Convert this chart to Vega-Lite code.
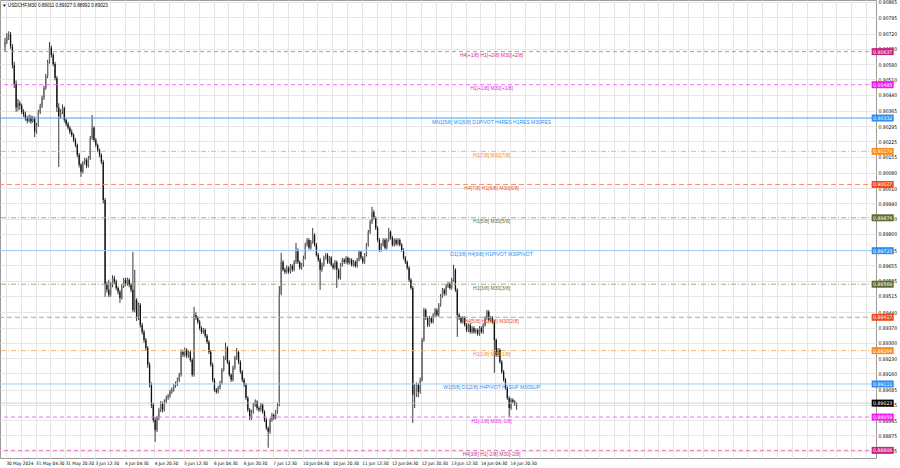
{
"$schema": "https://vega.github.io/schema/vega-lite/v6.json",
"width": 876, "height": 458, "padding": {"left": 0, "top": 0, "right": 24, "bottom": 10}, "autosize": {"type": "none"},
"background": "white",
"config": {"view": {"stroke": "#9a9a9a", "strokeWidth": 1}, "font": "Liberation Sans",
  "axis": {"labelFontSize": 5, "labelColor": "#000000", "labelFont": "Liberation Sans Narrow, DejaVu Sans Condensed, Liberation Sans", "gridColor": "#e6e6e6", "gridOpacity": 1, "tickSize": 0, "domain": false, "title": null, "labelOverlap": false}},
"title": {"text": "▼ USDCHF,M30  0.89011 0.89027 0.88992 0.89023", "anchor": "start", "frame": "group", "orient": "top", "offset": -8, "dx": 2, "fontSize": 4.6, "fontWeight": "normal", "color": "#000", "font": "Liberation Sans, DejaVu Sans"},
"datasets": {
"bars": [
{"t":0,"o":0.90660,"h":0.90700,"l":0.90640,"c":0.90685},
{"t":2,"o":0.90685,"h":0.90722,"l":0.90672,"c":0.90705},
{"t":4,"o":0.90705,"h":0.90730,"l":0.90690,"c":0.90715},
{"t":6,"o":0.90715,"h":0.90727,"l":0.90650,"c":0.90660},
{"t":8,"o":0.90660,"h":0.90672,"l":0.90560,"c":0.90575},
{"t":10,"o":0.90575,"h":0.90590,"l":0.90470,"c":0.90490},
{"t":12,"o":0.90490,"h":0.90505,"l":0.90360,"c":0.90380},
{"t":14,"o":0.90380,"h":0.90420,"l":0.90365,"c":0.90400},
{"t":16,"o":0.90400,"h":0.90412,"l":0.90370,"c":0.90390},
{"t":18,"o":0.90390,"h":0.90398,"l":0.90350,"c":0.90360},
{"t":20,"o":0.90360,"h":0.90372,"l":0.90338,"c":0.90350},
{"t":22,"o":0.90350,"h":0.90362,"l":0.90320,"c":0.90330},
{"t":24,"o":0.90330,"h":0.90342,"l":0.90308,"c":0.90320},
{"t":26,"o":0.90320,"h":0.90348,"l":0.90312,"c":0.90335},
{"t":28,"o":0.90335,"h":0.90345,"l":0.90305,"c":0.90316},
{"t":30,"o":0.90316,"h":0.90342,"l":0.90310,"c":0.90330},
{"t":32,"o":0.90330,"h":0.90338,"l":0.90245,"c":0.90270},
{"t":34,"o":0.90270,"h":0.90310,"l":0.90260,"c":0.90300},
{"t":36,"o":0.90300,"h":0.90370,"l":0.90292,"c":0.90360},
{"t":38,"o":0.90360,"h":0.90398,"l":0.90350,"c":0.90388},
{"t":40,"o":0.90388,"h":0.90435,"l":0.90378,"c":0.90425},
{"t":42,"o":0.90425,"h":0.90480,"l":0.90415,"c":0.90470},
{"t":44,"o":0.90470,"h":0.90535,"l":0.90462,"c":0.90525},
{"t":46,"o":0.90525,"h":0.90600,"l":0.90515,"c":0.90590},
{"t":48,"o":0.90590,"h":0.90681,"l":0.90582,"c":0.90655},
{"t":50,"o":0.90655,"h":0.90665,"l":0.90610,"c":0.90622},
{"t":52,"o":0.90622,"h":0.90632,"l":0.90570,"c":0.90580},
{"t":54,"o":0.90580,"h":0.90590,"l":0.90505,"c":0.90516},
{"t":56,"o":0.90516,"h":0.90525,"l":0.90360,"c":0.90380},
{"t":58,"o":0.90380,"h":0.90400,"l":0.90107,"c":0.90340},
{"t":60,"o":0.90340,"h":0.90372,"l":0.90330,"c":0.90360},
{"t":62,"o":0.90360,"h":0.90395,"l":0.90350,"c":0.90378},
{"t":64,"o":0.90378,"h":0.90385,"l":0.90312,"c":0.90323},
{"t":66,"o":0.90323,"h":0.90332,"l":0.90295,"c":0.90305},
{"t":68,"o":0.90305,"h":0.90315,"l":0.90278,"c":0.90287},
{"t":70,"o":0.90287,"h":0.90295,"l":0.90258,"c":0.90268},
{"t":72,"o":0.90268,"h":0.90280,"l":0.90245,"c":0.90254},
{"t":74,"o":0.90254,"h":0.90262,"l":0.90222,"c":0.90231},
{"t":76,"o":0.90231,"h":0.90240,"l":0.90198,"c":0.90208},
{"t":78,"o":0.90208,"h":0.90215,"l":0.90152,"c":0.90163},
{"t":80,"o":0.90163,"h":0.90172,"l":0.90105,"c":0.90117},
{"t":82,"o":0.90117,"h":0.90125,"l":0.90062,"c":0.90085},
{"t":84,"o":0.90085,"h":0.90135,"l":0.90078,"c":0.90126},
{"t":86,"o":0.90126,"h":0.90150,"l":0.90118,"c":0.90140},
{"t":88,"o":0.90140,"h":0.90148,"l":0.90102,"c":0.90112},
{"t":90,"o":0.90112,"h":0.90158,"l":0.90105,"c":0.90149},
{"t":92,"o":0.90149,"h":0.90250,"l":0.90140,"c":0.90240},
{"t":94,"o":0.90240,"h":0.90346,"l":0.90232,"c":0.90287},
{"t":96,"o":0.90287,"h":0.90295,"l":0.90222,"c":0.90231},
{"t":98,"o":0.90231,"h":0.90240,"l":0.90198,"c":0.90208},
{"t":100,"o":0.90208,"h":0.90215,"l":0.90175,"c":0.90185},
{"t":102,"o":0.90185,"h":0.90192,"l":0.90152,"c":0.90163},
{"t":104,"o":0.90163,"h":0.90170,"l":0.90120,"c":0.90130},
{"t":106,"o":0.90130,"h":0.90140,"l":0.89940,"c":0.89956},
{"t":108,"o":0.89956,"h":0.89965,"l":0.89511,"c":0.89566},
{"t":110,"o":0.89566,"h":0.89580,"l":0.89530,"c":0.89543},
{"t":112,"o":0.89543,"h":0.89590,"l":0.89510,"c":0.89520},
{"t":114,"o":0.89520,"h":0.89578,"l":0.89512,"c":0.89566},
{"t":116,"o":0.89566,"h":0.89610,"l":0.89555,"c":0.89598},
{"t":118,"o":0.89598,"h":0.89608,"l":0.89570,"c":0.89580},
{"t":120,"o":0.89580,"h":0.89590,"l":0.89542,"c":0.89552},
{"t":122,"o":0.89552,"h":0.89560,"l":0.89522,"c":0.89534},
{"t":124,"o":0.89534,"h":0.89542,"l":0.89483,"c":0.89506},
{"t":126,"o":0.89506,"h":0.89570,"l":0.89498,"c":0.89561},
{"t":128,"o":0.89561,"h":0.89598,"l":0.89552,"c":0.89589},
{"t":130,"o":0.89589,"h":0.89598,"l":0.89560,"c":0.89570},
{"t":132,"o":0.89570,"h":0.89600,"l":0.89562,"c":0.89589},
{"t":134,"o":0.89589,"h":0.89596,"l":0.89555,"c":0.89566},
{"t":136,"o":0.89566,"h":0.89575,"l":0.89532,"c":0.89543},
{"t":138,"o":0.89543,"h":0.89717,"l":0.89440,"c":0.89451},
{"t":140,"o":0.89451,"h":0.89635,"l":0.89440,"c":0.89497},
{"t":142,"o":0.89497,"h":0.89505,"l":0.89400,"c":0.89414},
{"t":144,"o":0.89414,"h":0.89485,"l":0.89405,"c":0.89474},
{"t":146,"o":0.89474,"h":0.89482,"l":0.89370,"c":0.89382},
{"t":148,"o":0.89382,"h":0.89392,"l":0.89338,"c":0.89350},
{"t":150,"o":0.89350,"h":0.89360,"l":0.89300,"c":0.89313},
{"t":152,"o":0.89313,"h":0.89322,"l":0.89262,"c":0.89276},
{"t":154,"o":0.89276,"h":0.89285,"l":0.89185,"c":0.89199},
{"t":156,"o":0.89199,"h":0.89210,"l":0.89095,"c":0.89107},
{"t":158,"o":0.89107,"h":0.89118,"l":0.89000,"c":0.89015},
{"t":160,"o":0.89015,"h":0.89025,"l":0.88935,"c":0.88946},
{"t":162,"o":0.88946,"h":0.88958,"l":0.88845,"c":0.88900},
{"t":164,"o":0.88900,"h":0.88965,"l":0.88890,"c":0.88955},
{"t":166,"o":0.88955,"h":0.89002,"l":0.88945,"c":0.88992},
{"t":168,"o":0.88992,"h":0.89032,"l":0.88982,"c":0.89020},
{"t":170,"o":0.89020,"h":0.89030,"l":0.88980,"c":0.88992},
{"t":172,"o":0.88992,"h":0.89040,"l":0.88985,"c":0.89029},
{"t":174,"o":0.89029,"h":0.89058,"l":0.89020,"c":0.89047},
{"t":176,"o":0.89047,"h":0.89065,"l":0.89038,"c":0.89056},
{"t":178,"o":0.89056,"h":0.89085,"l":0.89048,"c":0.89075},
{"t":180,"o":0.89075,"h":0.89095,"l":0.89066,"c":0.89084},
{"t":182,"o":0.89084,"h":0.89112,"l":0.89076,"c":0.89102},
{"t":184,"o":0.89102,"h":0.89122,"l":0.89094,"c":0.89111},
{"t":186,"o":0.89111,"h":0.89140,"l":0.89102,"c":0.89130},
{"t":188,"o":0.89130,"h":0.89162,"l":0.89120,"c":0.89153},
{"t":190,"o":0.89153,"h":0.89270,"l":0.89145,"c":0.89258},
{"t":192,"o":0.89258,"h":0.89268,"l":0.89235,"c":0.89245},
{"t":194,"o":0.89245,"h":0.89278,"l":0.89236,"c":0.89267},
{"t":196,"o":0.89267,"h":0.89275,"l":0.89230,"c":0.89240},
{"t":198,"o":0.89240,"h":0.89268,"l":0.89232,"c":0.89258},
{"t":200,"o":0.89258,"h":0.89265,"l":0.89212,"c":0.89221},
{"t":202,"o":0.89221,"h":0.89230,"l":0.89144,"c":0.89153},
{"t":204,"o":0.89153,"h":0.89465,"l":0.89145,"c":0.89428},
{"t":206,"o":0.89428,"h":0.89440,"l":0.89405,"c":0.89414},
{"t":208,"o":0.89414,"h":0.89422,"l":0.89386,"c":0.89396},
{"t":210,"o":0.89396,"h":0.89405,"l":0.89358,"c":0.89368},
{"t":212,"o":0.89368,"h":0.89376,"l":0.89340,"c":0.89350},
{"t":214,"o":0.89350,"h":0.89368,"l":0.89342,"c":0.89359},
{"t":216,"o":0.89359,"h":0.89366,"l":0.89322,"c":0.89332},
{"t":218,"o":0.89332,"h":0.89340,"l":0.89295,"c":0.89304},
{"t":220,"o":0.89304,"h":0.89312,"l":0.89248,"c":0.89258},
{"t":222,"o":0.89258,"h":0.89266,"l":0.89190,"c":0.89199},
{"t":224,"o":0.89199,"h":0.89208,"l":0.89120,"c":0.89130},
{"t":226,"o":0.89130,"h":0.89138,"l":0.89075,"c":0.89084},
{"t":228,"o":0.89084,"h":0.89092,"l":0.89066,"c":0.89075},
{"t":230,"o":0.89075,"h":0.89102,"l":0.89068,"c":0.89093},
{"t":232,"o":0.89093,"h":0.89125,"l":0.89085,"c":0.89116},
{"t":234,"o":0.89116,"h":0.89185,"l":0.89108,"c":0.89176},
{"t":236,"o":0.89176,"h":0.89240,"l":0.89168,"c":0.89231},
{"t":238,"o":0.89231,"h":0.89300,"l":0.89222,"c":0.89276},
{"t":240,"o":0.89276,"h":0.89284,"l":0.89202,"c":0.89212},
{"t":242,"o":0.89212,"h":0.89220,"l":0.89145,"c":0.89153},
{"t":244,"o":0.89153,"h":0.89160,"l":0.89120,"c":0.89130},
{"t":246,"o":0.89130,"h":0.89195,"l":0.89122,"c":0.89185},
{"t":248,"o":0.89185,"h":0.89240,"l":0.89176,"c":0.89231},
{"t":250,"o":0.89231,"h":0.89276,"l":0.89222,"c":0.89258},
{"t":252,"o":0.89258,"h":0.89266,"l":0.89202,"c":0.89212},
{"t":254,"o":0.89212,"h":0.89220,"l":0.89158,"c":0.89167},
{"t":256,"o":0.89167,"h":0.89175,"l":0.89120,"c":0.89130},
{"t":258,"o":0.89130,"h":0.89138,"l":0.89098,"c":0.89107},
{"t":260,"o":0.89107,"h":0.89115,"l":0.89038,"c":0.89047},
{"t":262,"o":0.89047,"h":0.89055,"l":0.88982,"c":0.88992},
{"t":264,"o":0.88992,"h":0.89000,"l":0.88945,"c":0.88955},
{"t":266,"o":0.88955,"h":0.88992,"l":0.88946,"c":0.88983},
{"t":268,"o":0.88983,"h":0.89025,"l":0.88975,"c":0.89015},
{"t":270,"o":0.89015,"h":0.89040,"l":0.89006,"c":0.89029},
{"t":272,"o":0.89029,"h":0.89036,"l":0.88990,"c":0.89001},
{"t":274,"o":0.89001,"h":0.89008,"l":0.88982,"c":0.88992},
{"t":276,"o":0.88992,"h":0.89024,"l":0.88985,"c":0.89015},
{"t":278,"o":0.89015,"h":0.89022,"l":0.88975,"c":0.88983},
{"t":280,"o":0.88983,"h":0.88990,"l":0.88936,"c":0.88946},
{"t":282,"o":0.88946,"h":0.88955,"l":0.88900,"c":0.88909},
{"t":284,"o":0.88909,"h":0.88916,"l":0.88818,"c":0.88891},
{"t":286,"o":0.88891,"h":0.88955,"l":0.88882,"c":0.88946},
{"t":288,"o":0.88946,"h":0.88978,"l":0.88938,"c":0.88969},
{"t":290,"o":0.88969,"h":0.88975,"l":0.88946,"c":0.88955},
{"t":292,"o":0.88955,"h":0.88992,"l":0.88948,"c":0.88983},
{"t":294,"o":0.88983,"h":0.89025,"l":0.88975,"c":0.89015},
{"t":296,"o":0.89015,"h":0.89560,"l":0.89008,"c":0.89526},
{"t":298,"o":0.89526,"h":0.89713,"l":0.89518,"c":0.89671},
{"t":300,"o":0.89671,"h":0.89680,"l":0.89628,"c":0.89635},
{"t":302,"o":0.89635,"h":0.89645,"l":0.89615,"c":0.89626},
{"t":304,"o":0.89626,"h":0.89655,"l":0.89618,"c":0.89644},
{"t":306,"o":0.89644,"h":0.89652,"l":0.89616,"c":0.89626},
{"t":308,"o":0.89626,"h":0.89662,"l":0.89618,"c":0.89653},
{"t":310,"o":0.89653,"h":0.89660,"l":0.89626,"c":0.89635},
{"t":312,"o":0.89635,"h":0.89680,"l":0.89628,"c":0.89671},
{"t":314,"o":0.89671,"h":0.89759,"l":0.89662,"c":0.89726},
{"t":316,"o":0.89726,"h":0.89734,"l":0.89662,"c":0.89671},
{"t":318,"o":0.89671,"h":0.89678,"l":0.89636,"c":0.89644},
{"t":320,"o":0.89644,"h":0.89666,"l":0.89636,"c":0.89658},
{"t":322,"o":0.89658,"h":0.89700,"l":0.89650,"c":0.89690},
{"t":324,"o":0.89690,"h":0.89760,"l":0.89682,"c":0.89750},
{"t":326,"o":0.89750,"h":0.89782,"l":0.89742,"c":0.89772},
{"t":328,"o":0.89772,"h":0.89780,"l":0.89728,"c":0.89736},
{"t":330,"o":0.89736,"h":0.89772,"l":0.89728,"c":0.89763},
{"t":332,"o":0.89763,"h":0.89827,"l":0.89755,"c":0.89795},
{"t":334,"o":0.89795,"h":0.89803,"l":0.89742,"c":0.89750},
{"t":336,"o":0.89750,"h":0.89758,"l":0.89696,"c":0.89704},
{"t":338,"o":0.89704,"h":0.89712,"l":0.89672,"c":0.89681},
{"t":340,"o":0.89681,"h":0.89690,"l":0.89543,"c":0.89635},
{"t":342,"o":0.89635,"h":0.89668,"l":0.89626,"c":0.89658},
{"t":344,"o":0.89658,"h":0.89700,"l":0.89650,"c":0.89690},
{"t":346,"o":0.89690,"h":0.89712,"l":0.89682,"c":0.89704},
{"t":348,"o":0.89704,"h":0.89712,"l":0.89662,"c":0.89671},
{"t":350,"o":0.89671,"h":0.89698,"l":0.89663,"c":0.89690},
{"t":352,"o":0.89690,"h":0.89698,"l":0.89650,"c":0.89658},
{"t":354,"o":0.89658,"h":0.89666,"l":0.89636,"c":0.89644},
{"t":356,"o":0.89644,"h":0.89680,"l":0.89636,"c":0.89671},
{"t":358,"o":0.89671,"h":0.89678,"l":0.89552,"c":0.89635},
{"t":360,"o":0.89635,"h":0.89642,"l":0.89590,"c":0.89598},
{"t":362,"o":0.89598,"h":0.89666,"l":0.89590,"c":0.89658},
{"t":364,"o":0.89658,"h":0.89690,"l":0.89650,"c":0.89681},
{"t":366,"o":0.89681,"h":0.89688,"l":0.89662,"c":0.89671},
{"t":368,"o":0.89671,"h":0.89698,"l":0.89663,"c":0.89690},
{"t":370,"o":0.89690,"h":0.89696,"l":0.89658,"c":0.89667},
{"t":372,"o":0.89667,"h":0.89690,"l":0.89660,"c":0.89681},
{"t":374,"o":0.89681,"h":0.89688,"l":0.89650,"c":0.89658},
{"t":376,"o":0.89658,"h":0.89680,"l":0.89650,"c":0.89671},
{"t":378,"o":0.89671,"h":0.89678,"l":0.89645,"c":0.89653},
{"t":380,"o":0.89653,"h":0.89690,"l":0.89645,"c":0.89681},
{"t":382,"o":0.89681,"h":0.89726,"l":0.89673,"c":0.89717},
{"t":384,"o":0.89717,"h":0.89724,"l":0.89682,"c":0.89690},
{"t":386,"o":0.89690,"h":0.89698,"l":0.89662,"c":0.89671},
{"t":388,"o":0.89671,"h":0.89712,"l":0.89663,"c":0.89704},
{"t":390,"o":0.89704,"h":0.89758,"l":0.89696,"c":0.89750},
{"t":392,"o":0.89750,"h":0.89818,"l":0.89742,"c":0.89809},
{"t":394,"o":0.89809,"h":0.89864,"l":0.89800,"c":0.89855},
{"t":396,"o":0.89855,"h":0.89924,"l":0.89846,"c":0.89901},
{"t":398,"o":0.89901,"h":0.89910,"l":0.89865,"c":0.89873},
{"t":400,"o":0.89873,"h":0.89880,"l":0.89818,"c":0.89827},
{"t":402,"o":0.89827,"h":0.89835,"l":0.89764,"c":0.89772},
{"t":404,"o":0.89772,"h":0.89780,"l":0.89718,"c":0.89726},
{"t":406,"o":0.89726,"h":0.89758,"l":0.89718,"c":0.89750},
{"t":408,"o":0.89750,"h":0.89780,"l":0.89742,"c":0.89772},
{"t":410,"o":0.89772,"h":0.89780,"l":0.89728,"c":0.89736},
{"t":412,"o":0.89736,"h":0.89780,"l":0.89728,"c":0.89772},
{"t":414,"o":0.89772,"h":0.89827,"l":0.89764,"c":0.89809},
{"t":416,"o":0.89809,"h":0.89816,"l":0.89774,"c":0.89782},
{"t":418,"o":0.89782,"h":0.89790,"l":0.89742,"c":0.89750},
{"t":420,"o":0.89750,"h":0.89780,"l":0.89742,"c":0.89772},
{"t":422,"o":0.89772,"h":0.89780,"l":0.89746,"c":0.89754},
{"t":424,"o":0.89754,"h":0.89780,"l":0.89746,"c":0.89772},
{"t":426,"o":0.89772,"h":0.89780,"l":0.89742,"c":0.89750},
{"t":428,"o":0.89750,"h":0.89758,"l":0.89718,"c":0.89726},
{"t":430,"o":0.89726,"h":0.89734,"l":0.89682,"c":0.89690},
{"t":432,"o":0.89690,"h":0.89698,"l":0.89662,"c":0.89671},
{"t":434,"o":0.89671,"h":0.89678,"l":0.89636,"c":0.89644},
{"t":436,"o":0.89644,"h":0.89652,"l":0.89580,"c":0.89589},
{"t":438,"o":0.89589,"h":0.89596,"l":0.89544,"c":0.89552},
{"t":440,"o":0.89552,"h":0.89560,"l":0.88932,"c":0.89061},
{"t":442,"o":0.89061,"h":0.89110,"l":0.89000,"c":0.89061},
{"t":444,"o":0.89061,"h":0.89118,"l":0.89052,"c":0.89107},
{"t":446,"o":0.89107,"h":0.89115,"l":0.89050,"c":0.89075},
{"t":448,"o":0.89075,"h":0.89140,"l":0.89066,"c":0.89130},
{"t":450,"o":0.89130,"h":0.89322,"l":0.89122,"c":0.89313},
{"t":452,"o":0.89313,"h":0.89460,"l":0.89305,"c":0.89451},
{"t":454,"o":0.89451,"h":0.89458,"l":0.89405,"c":0.89414},
{"t":456,"o":0.89414,"h":0.89422,"l":0.89372,"c":0.89382},
{"t":458,"o":0.89382,"h":0.89422,"l":0.89374,"c":0.89414},
{"t":460,"o":0.89414,"h":0.89422,"l":0.89388,"c":0.89396},
{"t":462,"o":0.89396,"h":0.89436,"l":0.89388,"c":0.89428},
{"t":464,"o":0.89428,"h":0.89460,"l":0.89420,"c":0.89451},
{"t":466,"o":0.89451,"h":0.89458,"l":0.89420,"c":0.89428},
{"t":468,"o":0.89428,"h":0.89482,"l":0.89420,"c":0.89474},
{"t":470,"o":0.89474,"h":0.89524,"l":0.89466,"c":0.89515},
{"t":472,"o":0.89515,"h":0.89552,"l":0.89507,"c":0.89543},
{"t":474,"o":0.89543,"h":0.89550,"l":0.89516,"c":0.89525},
{"t":476,"o":0.89525,"h":0.89570,"l":0.89517,"c":0.89561},
{"t":478,"o":0.89561,"h":0.89580,"l":0.89552,"c":0.89570},
{"t":480,"o":0.89570,"h":0.89578,"l":0.89544,"c":0.89552},
{"t":482,"o":0.89552,"h":0.89598,"l":0.89544,"c":0.89589},
{"t":484,"o":0.89589,"h":0.89658,"l":0.89580,"c":0.89635},
{"t":486,"o":0.89635,"h":0.89642,"l":0.89534,"c":0.89543},
{"t":488,"o":0.89543,"h":0.89550,"l":0.89327,"c":0.89428},
{"t":490,"o":0.89428,"h":0.89436,"l":0.89405,"c":0.89414},
{"t":492,"o":0.89414,"h":0.89422,"l":0.89388,"c":0.89396},
{"t":494,"o":0.89396,"h":0.89422,"l":0.89388,"c":0.89414},
{"t":496,"o":0.89414,"h":0.89422,"l":0.89374,"c":0.89382},
{"t":498,"o":0.89382,"h":0.89390,"l":0.89350,"c":0.89359},
{"t":500,"o":0.89359,"h":0.89390,"l":0.89350,"c":0.89382},
{"t":502,"o":0.89382,"h":0.89390,"l":0.89342,"c":0.89350},
{"t":504,"o":0.89350,"h":0.89376,"l":0.89342,"c":0.89368},
{"t":506,"o":0.89368,"h":0.89376,"l":0.89342,"c":0.89350},
{"t":508,"o":0.89350,"h":0.89366,"l":0.89342,"c":0.89359},
{"t":510,"o":0.89359,"h":0.89366,"l":0.89332,"c":0.89341},
{"t":512,"o":0.89341,"h":0.89376,"l":0.89333,"c":0.89368},
{"t":514,"o":0.89368,"h":0.89376,"l":0.89342,"c":0.89350},
{"t":516,"o":0.89350,"h":0.89390,"l":0.89342,"c":0.89382},
{"t":518,"o":0.89382,"h":0.89422,"l":0.89374,"c":0.89414},
{"t":520,"o":0.89414,"h":0.89451,"l":0.89406,"c":0.89442},
{"t":522,"o":0.89442,"h":0.89450,"l":0.89396,"c":0.89405},
{"t":524,"o":0.89405,"h":0.89422,"l":0.89397,"c":0.89414},
{"t":526,"o":0.89414,"h":0.89422,"l":0.89388,"c":0.89396},
{"t":528,"o":0.89396,"h":0.89404,"l":0.89162,"c":0.89313},
{"t":530,"o":0.89313,"h":0.89320,"l":0.89236,"c":0.89244},
{"t":532,"o":0.89244,"h":0.89276,"l":0.89236,"c":0.89267},
{"t":534,"o":0.89267,"h":0.89275,"l":0.89204,"c":0.89212},
{"t":536,"o":0.89212,"h":0.89220,"l":0.89158,"c":0.89167},
{"t":538,"o":0.89167,"h":0.89175,"l":0.89122,"c":0.89130},
{"t":540,"o":0.89130,"h":0.89138,"l":0.89085,"c":0.89093},
{"t":542,"o":0.89093,"h":0.89100,"l":0.89038,"c":0.89047},
{"t":544,"o":0.89047,"h":0.89055,"l":0.88960,"c":0.89001},
{"t":546,"o":0.89001,"h":0.89046,"l":0.88992,"c":0.89038},
{"t":548,"o":0.89038,"h":0.89045,"l":0.89020,"c":0.89029},
{"t":550,"o":0.89029,"h":0.89036,"l":0.89010,"c":0.89020},
{"t":552,"o":0.89011,"h":0.89027,"l":0.88992,"c":0.89023}
],
"levels": [
{"p":0.90637,"price":"0.90637","label":"H4[+1/8] H1[+2/8] M30[+2/8]","kind":"pink"},
{"p":0.90485,"price":"0.90485","label":"H1[+1/8] M30[+1/8]","kind":"magenta"},
{"p":0.90332,"price":"0.90332","label":"MN1[5/8] W1[6/8] D1PIVOT H4RES H1RES M30RES","kind":"blueMain"},
{"p":0.90179,"price":"0.90179","label":"H1[7/8] M30[7/8]","kind":"orange"},
{"p":0.90027,"price":"0.90027","label":"H4[7/8] H1[6/8] M30[6/8]","kind":"orangered"},
{"p":0.89874,"price":"0.89874","label":"H1[5/8] M30[5/8]","kind":"olive"},
{"p":0.89723,"price":"0.89723","label":"D1[3/8] H4[6/8] H1PIVOT M30PIVOT","kind":"blue"},
{"p":0.89569,"price":"0.89569","label":"H1[3/8] M30[3/8]","kind":"olive"},
{"p":0.89417,"price":"0.89417","label":"H4[5/8] H1[2/8] M30[2/8]","kind":"orangered"},
{"p":0.89264,"price":"0.89264","label":"H1[1/8] M30[1/8]","kind":"orange"},
{"p":0.89111,"price":"0.89111","label":"W1[5/8] D1[2/8] H4PIVOT H1SUP M30SUP","kind":"blue"},
{"p":0.88959,"price":"0.88959","label":"H1[-1/8] M30[-1/8]","kind":"magenta"},
{"p":0.88806,"price":"0.88806","label":"H4[3/8] H1[-2/8] M30[-2/8]","kind":"pink"}
],
"bid": [{"p":0.89023,"price":"0.89023"}]
},
"encoding": {
  "y": {"field": "l", "type": "quantitative",
        "scale": {"domain": [0.88771, 0.90874], "nice": false, "zero": false},
        "axis": {"orient": "right", "grid": true, "gridColor": "#e6e6e6", "labelOverlap": false, "zindex": 0, "values": [0.90865,0.90795,0.9072,0.9065,0.9058,0.9051,0.9044,0.90365,0.90295,0.90225,0.90155,0.9008,0.9001,0.8994,0.8987,0.898,0.89725,0.89655,0.89585,0.89515,0.8944,0.8937,0.893,0.8923,0.8916,0.89085,0.89015,0.88945,0.88875,0.88805],
                 "format": ".5f", "labelPadding": 2, "labelFontSize": 5}}
},
"resolve": {"scale": {"color": "independent"}},
"layer": [
{"data": {"name": "bars"},
 "encoding": {
  "x": {"field": "t", "type": "quantitative",
        "scale": {"domain": [0, 934.4], "nice": false, "zero": false},
        "axis": {"orient": "bottom", "grid": true, "gridColor": "#e6e6e6", "labelOverlap": false, "zindex": 0, "values": [1,17,33,49,65,81,97,113,129,145,161,177,193,209,225,241,257,273,289,305,321,337,353,369,385,401,417,433,449,465,481,497,513,529,545,561,577,593,609,625,641,657,673,689,705,721,737,753,769,785,801,817,833,849,865,881,897,913,929],
                 "labelExpr": "(round((datum.value-1)/16) % 2 == 0 && round((datum.value-1)/32) < 18) ? ['30 May 2024','31 May 04:30','31 May 20:30','3 Jun 12:30','4 Jun 04:30','4 Jun 20:30','5 Jun 12:30','6 Jun 04:30','6 Jun 20:30','7 Jun 12:30','10 Jun 04:30','10 Jun 20:30','11 Jun 12:30','12 Jun 04:30','12 Jun 20:30','13 Jun 12:30','14 Jun 04:30','14 Jun 20:30'][round((datum.value-1)/32)] : ''",
                 "labelAlign": "left", "labelBaseline": "top", "labelPadding": 2, "labelFontSize": 4.6}}},
 "layer": [
  {"mark": {"type": "rule", "color": "#3a3a3a", "strokeWidth": 1},
   "encoding": {"y2": {"field": "h"}}},
  {"mark": {"type": "bar", "width": 1.3},
   "encoding": {
    "y": {"field": "o", "type": "quantitative"},
    "y2": {"field": "c"},
    "color": {"condition": {"test": "datum.c >= datum.o", "value": "#6e6e6e"}, "value": "#111111"}
   }}
 ]},
{"data": {"name": "bid"}, "mark": {"type": "rule", "color": "#c4c4c4", "strokeWidth": 0.8},
 "encoding": {"y": {"field": "p", "type": "quantitative"}}},
{"data": {"name": "levels"}, "mark": {"type": "rule"},
 "encoding": {
  "y": {"field": "p", "type": "quantitative"},
  "color": {"field": "kind", "type": "nominal", "legend": null,
            "scale": {"domain": ["pink","magenta","blueMain","blue","orange","orangered","olive"], "range": ["#ec74b6","#f46cf4","#4aa2f6","#9ccbf8","#fbb46c","#fa8c68","#a3aa86"]}},
  "strokeDash": {"field": "kind", "type": "nominal", "legend": null,
            "scale": {"domain": ["pink","magenta","blueMain","blue","orange","orangered","olive"], "range": [[4,3],[4,3],[1,0],[1,0],[5,2,1,2],[5,3],[5,2,1,2]]}},
  "strokeWidth": {"field": "kind", "type": "ordinal", "legend": null,
            "scale": {"domain": ["pink","magenta","blueMain","blue","orange","orangered","olive"], "range": [1,1,1.7,1,1,1,1]}}
 }},
{"data": {"name": "levels"}, "mark": {"type": "text", "align": "center", "baseline": "middle", "dy": 3.5, "fontSize": 5, "font": "Liberation Sans"},
 "encoding": {
  "x": {"datum": 525, "type": "quantitative",
        "axis": {"orient": "bottom", "grid": true, "gridColor": "#e6e6e6", "labelOverlap": false, "zindex": 0, "values": [1,17,33,49,65,81,97,113,129,145,161,177,193,209,225,241,257,273,289,305,321,337,353,369,385,401,417,433,449,465,481,497,513,529,545,561,577,593,609,625,641,657,673,689,705,721,737,753,769,785,801,817,833,849,865,881,897,913,929],
                 "labelExpr": "(round((datum.value-1)/16) % 2 == 0 && round((datum.value-1)/32) < 18) ? ['30 May 2024','31 May 04:30','31 May 20:30','3 Jun 12:30','4 Jun 04:30','4 Jun 20:30','5 Jun 12:30','6 Jun 04:30','6 Jun 20:30','7 Jun 12:30','10 Jun 04:30','10 Jun 20:30','11 Jun 12:30','12 Jun 04:30','12 Jun 20:30','13 Jun 12:30','14 Jun 04:30','14 Jun 20:30'][round((datum.value-1)/32)] : ''",
                 "labelAlign": "left", "labelBaseline": "top", "labelPadding": 2, "labelFontSize": 4.6}},
  "y": {"field": "p", "type": "quantitative"},
  "text": {"field": "label"},
  "color": {"field": "kind", "type": "nominal", "legend": null,
            "scale": {"domain": ["pink","magenta","blueMain","blue","orange","orangered","olive"], "range": ["#cc2f8e","#e01ee0","#2a8de8","#2a8de8","#f08c1a","#ec4a1e","#5f6e36"]}}
 }},
{"encoding": {
  "x": {"datum": 947, "type": "quantitative",
        "axis": {"orient": "bottom", "grid": true, "gridColor": "#e6e6e6", "labelOverlap": false, "zindex": 0, "values": [1,17,33,49,65,81,97,113,129,145,161,177,193,209,225,241,257,273,289,305,321,337,353,369,385,401,417,433,449,465,481,497,513,529,545,561,577,593,609,625,641,657,673,689,705,721,737,753,769,785,801,817,833,849,865,881,897,913,929],
                 "labelExpr": "(round((datum.value-1)/16) % 2 == 0 && round((datum.value-1)/32) < 18) ? ['30 May 2024','31 May 04:30','31 May 20:30','3 Jun 12:30','4 Jun 04:30','4 Jun 20:30','5 Jun 12:30','6 Jun 04:30','6 Jun 20:30','7 Jun 12:30','10 Jun 04:30','10 Jun 20:30','11 Jun 12:30','12 Jun 04:30','12 Jun 20:30','13 Jun 12:30','14 Jun 04:30','14 Jun 20:30'][round((datum.value-1)/32)] : ''",
                 "labelAlign": "left", "labelBaseline": "top", "labelPadding": 2, "labelFontSize": 4.6}},
  "y": {"field": "p", "type": "quantitative"}},
 "layer": [
  {"data": {"name": "levels"}, "mark": {"type": "tick", "orient": "horizontal", "size": 22, "thickness": 7, "opacity": 1, "clip": false},
   "encoding": {
    "color": {"field": "kind", "type": "nominal", "legend": null,
              "scale": {"domain": ["pink","magenta","blueMain","blue","orange","orangered","olive"], "range": ["#c8237f","#f516f5","#2c8ff0","#2c8ff0","#fb8c17","#f4471c","#5a6b33"]}}
   }},
  {"data": {"name": "bid"}, "mark": {"type": "tick", "orient": "horizontal", "size": 22, "thickness": 7, "color": "#000", "opacity": 1, "clip": false}},
  {"data": {"name": "levels"}, "mark": {"type": "text", "align": "center", "baseline": "middle", "fontSize": 5.2, "color": "#fff", "clip": false, "font": "Liberation Sans Narrow, DejaVu Sans Condensed, Liberation Sans"},
   "encoding": {"text": {"field": "price"}}},
  {"data": {"name": "bid"}, "mark": {"type": "text", "align": "center", "baseline": "middle", "fontSize": 5.2, "color": "#fff", "clip": false, "font": "Liberation Sans Narrow, DejaVu Sans Condensed, Liberation Sans"},
   "encoding": {"text": {"field": "price"}}}
 ]}
]
}
